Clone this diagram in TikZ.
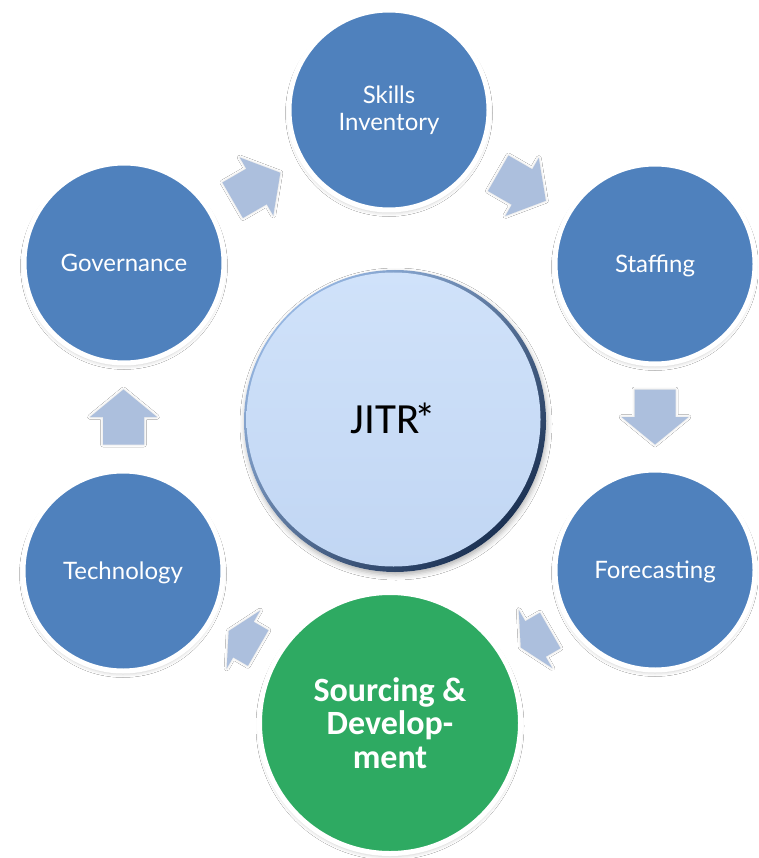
\documentclass[tikz,border=0pt]{standalone}
\usepackage{fontspec}
\newfontfamily\stagefont{Lato}
\newfontfamily\calfont{Carlito}
\usetikzlibrary{shadows.blur,calc}
\definecolor{cycleblue}{RGB}{79,129,189}
\definecolor{srcgreen}{RGB}{46,170,98}
\definecolor{arrowblue}{RGB}{172,191,221}
\definecolor{hubtop}{RGB}{208,226,250}
\definecolor{hubbot}{RGB}{193,214,243}
\definecolor{rimlight}{RGB}{150,182,225}
\definecolor{rimdark}{RGB}{28,50,84}
% block arrow: name, centre, direction, total length, head length
\newcommand\blockarrow[5]{%
  \coordinate (#1) at #2;
  \begin{scope}[shift={(#1)}, rotate=#3]
    \fill[arrowblue, arrowshadow]
      (-#4/2,-20.5) -- (#4/2-#5,-20.5) -- (#4/2-#5,-33.5) -- (#4/2,0)
      -- (#4/2-#5,33.5) -- (#4/2-#5,20.5) -- (-#4/2,20.5) -- cycle;
  \end{scope}}
\begin{document}
\begin{tikzpicture}[x=1pt,y=-1pt,
  softshadow/.style={blur shadow={shadow xshift=0pt, shadow yshift=-3pt,
      shadow blur radius=3.5pt, shadow opacity=20}},
  arrowshadow/.style={blur shadow={shadow xshift=0pt, shadow yshift=0pt,
      shadow blur radius=2.5pt, shadow opacity=15}},
  stage/.style={circle, fill=cycleblue, draw=white, line width=5pt,
      minimum size=200pt, inner sep=0pt, text=white, softshadow,
      font=\stagefont\fontsize{24}{27}\selectfont, align=center},
  oneline/.style={text height=17.2pt, text depth=0pt}
]
\fill[white] (0,0) rectangle (758,858);
\useasboundingbox (0,0) rectangle (758,858);

% central hub with a bevelled rim
\fill[white, blur shadow={shadow xshift=1pt, shadow yshift=-3pt,
    shadow blur radius=5pt, shadow opacity=30}] (395,421) circle (151);
\shade[top color=rimlight, bottom color=rimdark, shading angle=45]
  (395,421) circle (151);
\node[circle, minimum size=294pt, inner sep=0pt,
      top color=hubtop, bottom color=hubbot,
      font=\calfont\fontsize{43}{50}\selectfont,
      text height=27.7pt, text depth=0pt]
  (hub) at (393.5,419.5) {JITR\kern-5pt*};

% cycle stages
\node[stage, oneline] (gov)    at (124,263) {Governance};
\node[stage]          (skills) at (389,110) {Skills\\Inventory};
\node[stage, oneline] (staff)  at (655,264) {Staffing};
\node[stage, oneline] (fore)   at (655,570) {Forecasting};
\node[stage, oneline] (tech)   at (123,571) {Technology};
\node[stage, fill=srcgreen, minimum size=261pt,
      font=\calfont\bfseries\fontsize{34}{33.5}\selectfont]
  (src) at (390,723) {Sourcing \&\\Develop-\\ment};

% block arrows running clockwise between the stages
\blockarrow{a1}{($(gov)!0.5!(skills)$)}{30}{55}{27.5}
\blockarrow{a2}{($(skills)!0.5!(staff)$)}{-30}{55}{27.5}
\blockarrow{a3}{($(staff)!0.5!(fore)$)}{-90}{55}{27.5}
\blockarrow{a4}{($(fore)!0.451!(src)$)}{210}{34}{17}
\blockarrow{a5}{($(src)!0.549!(tech)$)}{150}{34}{17}
\blockarrow{a6}{($(tech)!0.5!(gov)$)}{90}{55}{27.5}
\end{tikzpicture}
\end{document}
